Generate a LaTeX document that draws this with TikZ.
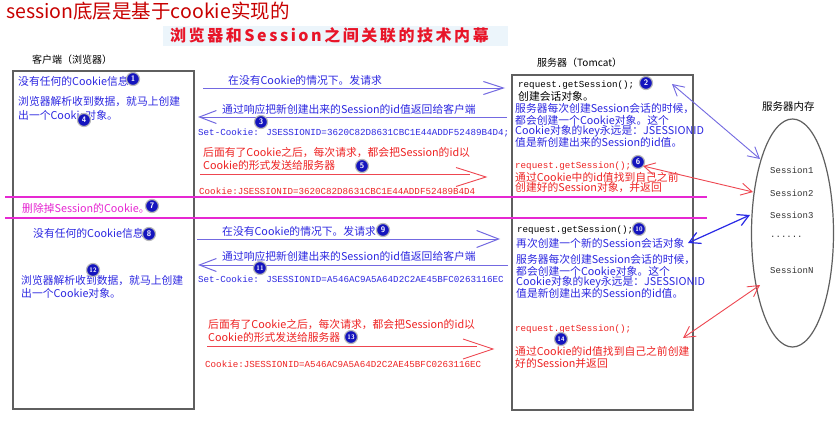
\documentclass[tikz,border=0pt]{standalone}
\usepackage{fontspec}
\setmainfont{Liberation Sans}
\newfontfamily\cjk{Noto Sans CJK SC}
\newfontfamily\monof{Liberation Mono}
\usetikzlibrary{arrows.meta,shapes.geometric,calc}
\definecolor{tblue}{RGB}{45,40,225}
\definecolor{tred}{RGB}{238,35,35}
\definecolor{titlered}{RGB}{200,0,0}
\definecolor{subred}{RGB}{232,20,40}
\definecolor{subbg}{RGB}{236,245,251}
\definecolor{amag}{RGB}{230,40,210}
\definecolor{nblue}{RGB}{20,20,190}
\definecolor{boxgray}{RGB}{95,95,95}
\definecolor{apurple}{RGB}{115,105,225}
\definecolor{ablue}{RGB}{40,40,230}
\definecolor{ared}{RGB}{238,70,80}
\begin{document}
\begin{tikzpicture}[x=1pt,y=-1pt,
  txt/.style={anchor=west, inner sep=0pt, font=\cjk\fontsize{10.8}{12}\selectfont},
  btext/.style={txt, text=tblue},
  rtext/.style={txt, text=tred},
  ktext/.style={txt, text=black},
  mtext/.style={txt, text=amag},
  monotxt/.style={anchor=west, inner sep=0pt, font=\monof\fontsize{9.2}{10}\selectfont},
  bmono/.style={monotxt, text=tblue},
  rmono/.style={monotxt, text=tred},
  kmono/.style={monotxt, text=black},
  cnum/.style={circle, fill=nblue, draw=gray!55, line width=1.2pt, text=white, inner sep=0pt, minimum size=13pt, font=\sffamily\bfseries\fontsize{8}{8}\selectfont},
  cnumw/.style={cnum, font=\sffamily\bfseries\fontsize{6.5}{7}\selectfont},
  panel/.style={draw=boxgray, line width=1.2pt, inner sep=0pt},
  harrow/.style={line width=1pt},
  dblarrow/.style={line width=0.9pt, {Straight Barb[length=11pt,width=12pt]}-{Straight Barb[length=11pt,width=12pt]}},
  redline/.style={draw=ared, line width=0.9pt},
  magline/.style={draw=amag, line width=1.5pt},
  memtext/.style={anchor=west, inner sep=0pt, text={rgb,255:red,50;green,50;blue,50}, font=\monof\fontsize{9}{10}\selectfont}
]
\useasboundingbox (0,0) rectangle (840,436);
\fill[white] (0,0) rectangle (840,436);

% titles
\node[anchor=west, inner sep=0pt, text=titlered, font=\cjk\fontsize{19.5}{21}\selectfont] (title) at (6,11) {session底层是基于cookie实现的};
\fill[subbg] (163,26) rectangle (508,46);
\node[anchor=west, inner sep=0pt, text=subred, font=\cjk\bfseries\fontsize{16}{18}\selectfont\addfontfeature{LetterSpace=16}] (subtitle) at (170,35) {浏览器和Session之间关联的技术内幕};

% headers
\node[ktext, font=\cjk\fontsize{10}{11}\selectfont] (cli) at (32,60) {客户端（浏览器）};
\node[ktext, font=\cjk\fontsize{10}{11}\selectfont] (srv) at (537,63) {服务器（Tomcat）};
\node[ktext, font=\cjk\fontsize{10.5}{11}\selectfont] (memt) at (762,107) {服务器内存};

% panels
\node[panel, minimum width=181pt, minimum height=338pt] (client) at (103.5,240) {};
\node[panel, minimum width=181pt, minimum height=335pt] (server) at (602.5,242.5) {};
\node[draw=boxgray, line width=1.2pt, ellipse, minimum width=82pt, minimum height=228pt, inner sep=0pt] (mem) at (792.5,233) {};

% memory content
\node[memtext] (ses1) at (770,170) {Session1};
\node[memtext] (ses2) at (770,193) {Session2};
\node[memtext] (ses3) at (770,215) {Session3};
\node[memtext] (sesd) at (770,237) {......};
\node[memtext] (sesn) at (770,270) {SessionN};

% magenta separators
\coordinate (g1s) at (5,197); \coordinate (g1e) at (707,197);
\coordinate (g2s) at (5,218); \coordinate (g2e) at (707,218);
\draw[magline] (g1s) -- (g1e);
\draw[magline] (g2s) -- (g2e);
\node[mtext] (del) at (22,208) {删除掉Session的Cookie。};
\node[cnum] (n7) at (152,206) {7};

% ---------- upper client ----------
\node[btext] (l1) at (18,81) {没有任何的Cookie信息};
\node[btext] (l2) at (18,102) {浏览器解析收到数据，就马上创建};
\node[btext] (l3) at (18,115) {出一个Cookie对象。};
\node[cnum] (n1) at (133,79) {1};
\node[cnum] (n4) at (84,120) {4};

% ---------- upper middle ----------
\coordinate (a1s) at (203,88); \coordinate (a1e) at (505,88);
\draw[harrow, draw=apurple, -{Straight Barb[length=20pt,width=13pt]}] (a1s) -- (a1e);
\node[btext] (m1) at (228,80) {在没有Cookie的情况下。发请求};

\coordinate (a2s) at (507,117); \coordinate (a2e) at (198,117);
\draw[harrow, draw=apurple, -{Straight Barb[length=17pt,width=13pt]}] (a2s) -- (a2e);
\node[btext] (m2) at (222,109) {通过响应把新创建出来的Session的id值返回给客户端};
\node[cnum] (n3) at (261,122) {3};
\node[bmono] (m3) at (198,133) {Set-Cookie: JSESSIONID=3620C82D8631CBC1E44ADDF52489B4D4;};

\node[rtext] (m4) at (203,153) {后面有了Cookie之后，每次请求，都会把Session的id以};
\node[rtext] (m5) at (203,165) {Cookie的形式发送给服务器};
\coordinate (r1s) at (200,177); \coordinate (r1m) at (470,177); \coordinate (r1e) at (486,177);
\draw[redline, double=white, double distance=5pt] (r1s) -- (r1m);
\draw[redline] ($(r1e)+(-30,-9.5)$) -- (r1e) -- ($(r1e)+(-30,9.5)$);
\node[cnum] (n5) at (362,166) {5};
\node[rmono] (m6) at (199,191) {Cookie:JSESSIONID=3620C82D8631CBC1E44ADDF52489B4D4};

% ---------- upper server ----------
\node[kmono] (s1) at (518,85) {request.getSession();};
\node[cnum] (n2) at (646,83) {2};
\node[ktext] (s2) at (518,96) {创建会话对象。};
\node[btext] (s3) at (515,109) {服务器每次创建Session会话的时候，};
\node[btext] (s4) at (515,120) {都会创建一个Cookie对象。这个};
\node[btext] (s5) at (515,131) {Cookie对象的key永远是：JSESSIONID};
\node[btext] (s6) at (515,142) {值是新创建出来的Session的id值。};
\node[rmono] (s7) at (515,166) {request.getSession();};
\node[cnum] (n6) at (638,162) {6};
\node[rtext] (s8) at (515,177) {通过Cookie中的id值找到自己之前};
\node[rtext] (s9) at (515,188) {创建好的Session对象，并返回};

% ---------- lower client ----------
\node[btext] (l4) at (33,233) {没有任何的Cookie信息};
\node[cnum] (n8) at (149,234) {8};
\node[btext] (l5) at (21,281) {浏览器解析收到数据，就马上创建};
\node[btext] (l6) at (21,293) {出一个Cookie对象。};
\node[cnumw] (n12) at (93,270) {12};

% ---------- lower middle ----------
\coordinate (a3s) at (197,239); \coordinate (a3e) at (500,239);
\draw[harrow, draw=apurple, -{Straight Barb[length=22pt,width=17pt]}] (a3s) -- (a3e);
\node[btext] (m7) at (222,231) {在没有Cookie的情况下。发请求};
\node[cnum] (n9) at (383,230) {9};

\coordinate (a4s) at (508,265); \coordinate (a4e) at (198,265);
\draw[harrow, draw=apurple, -{Straight Barb[length=17pt,width=13pt]}] (a4s) -- (a4e);
\node[btext] (m8) at (222,256) {通过响应把新创建出来的Session的id值返回给客户端};
\node[cnumw] (n11) at (260,268) {11};
\node[bmono] (m9) at (198,279) {Set-Cookie: JSESSIONID=A546AC9A5A64D2C2AE45BFC0263116EC};

\node[rtext] (m10) at (208,325) {后面有了Cookie之后，每次请求，都会把Session的id以};
\node[rtext] (m11) at (208,337) {Cookie的形式发送给服务器};
\coordinate (r2s) at (207,349); \coordinate (r2m) at (477,349); \coordinate (r2e) at (493,349);
\draw[redline, double=white, double distance=5pt] (r2s) -- (r2m);
\draw[redline] ($(r2e)+(-30,-10)$) -- (r2e) -- ($(r2e)+(-30,10)$);
\node[cnumw] (n13) at (351,337) {13};
\node[rmono] (m12) at (205,364) {Cookie:JSESSIONID=A546AC9A5A64D2C2AE45BFC0263116EC};

% ---------- lower server ----------
\node[kmono] (s10) at (517,230) {request.getSession();};
\node[cnumw] (n10) at (639,229) {10};
\node[btext] (s11) at (516,243) {再次创建一个新的Session会话对象};
\node[btext] (s12) at (516,260) {服务器每次创建Session会话的时候，};
\node[btext] (s13) at (516,271) {都会创建一个Cookie对象。这个};
\node[btext] (s14) at (516,282) {Cookie对象的key永远是：JSESSIONID};
\node[btext] (s15) at (516,293) {值是新创建出来的Session的id值。};
\node[rmono] (s16) at (515,329) {request.getSession();};
\node[rtext] (s17) at (515,351) {通过Cookie的id值找到自己之前创建};
\node[rtext] (s18) at (515,363) {好的Session并返回};
\node[cnumw] (n14) at (561,339) {14};

% ---------- server <-> memory ----------
\coordinate (p1a) at (672,84); \coordinate (p1b) at (760,159);
\draw[dblarrow, draw=apurple] (p1a) -- (p1b);
\coordinate (p2a) at (643,166); \coordinate (p2b) at (753,192);
\draw[dblarrow, draw=ared] (p2a) -- (p2b);
\coordinate (p3a) at (688,243); \coordinate (p3b) at (750,215);
\draw[dblarrow, draw=ablue, line width=1.2pt] (p3a) -- (p3b);
\coordinate (p4a) at (683,338); \coordinate (p4b) at (760,285);
\draw[dblarrow, draw=ared] (p4a) -- (p4b);
\end{tikzpicture}
\end{document}
